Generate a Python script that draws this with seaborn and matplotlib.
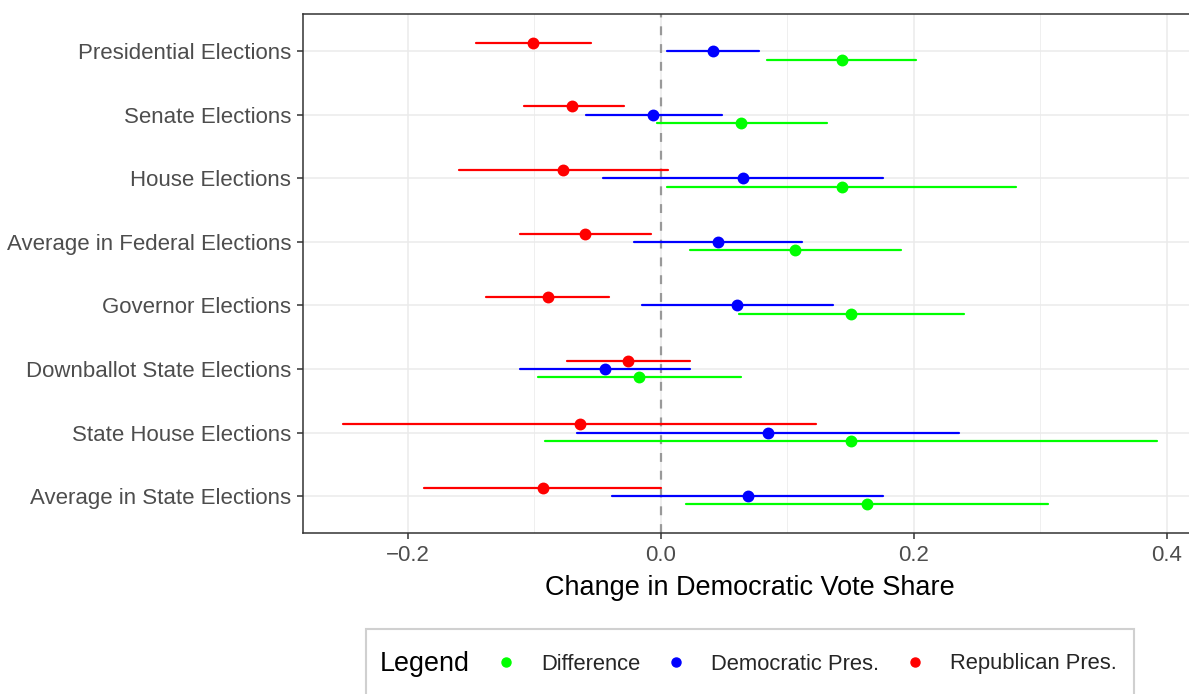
"""Dot-and-interval chart: change in Democratic vote share by election type."""

import matplotlib.pyplot as plt
import pandas as pd
import seaborn as sns
from matplotlib.lines import Line2D
from matplotlib.patches import Rectangle

categories = [
    "Presidential Elections",
    "Senate Elections",
    "House Elections",
    "Average in Federal Elections",
    "Governor Elections",
    "Downballot State Elections",
    "State House Elections",
    "Average in State Elections",
]

diff_est = [0.143, 0.063, 0.143, 0.106, 0.150, -0.017, 0.150, 0.163]
diff_lo = [0.084, -0.003, 0.005, 0.023, 0.062, -0.097, -0.092, 0.020]
diff_hi = [0.202, 0.131, 0.281, 0.190, 0.240, 0.063, 0.392, 0.306]

dem_est = [0.041, -0.006, 0.065, 0.045, 0.060, -0.044, 0.085, 0.069]
dem_lo = [0.005, -0.059, -0.046, -0.021, -0.015, -0.111, -0.066, -0.039]
dem_hi = [0.078, 0.048, 0.176, 0.112, 0.136, 0.023, 0.236, 0.176]

rep_est = [-0.101, -0.070, -0.077, -0.060, -0.089, -0.026, -0.064, -0.093]
rep_lo = [-0.146, -0.108, -0.160, -0.111, -0.138, -0.074, -0.251, -0.187]
rep_hi = [-0.055, -0.029, 0.006, -0.008, -0.041, 0.023, 0.123, 0.000]

series = ["Difference", "Democratic Pres.", "Republican Pres."]
colors = {"Difference": "#00FF00", "Democratic Pres.": "#0000FF", "Republican Pres.": "#FF0000"}

# long table: lower bound, estimate, upper bound per row -> median + 100% interval
rows = []
for name, est, lo, hi in [
    ("Difference", diff_est, diff_lo, diff_hi),
    ("Democratic Pres.", dem_est, dem_lo, dem_hi),
    ("Republican Pres.", rep_est, rep_lo, rep_hi),
]:
    for cat, e, l, h in zip(categories, est, lo, hi):
        for v in (l, e, h):
            rows.append({"election": cat, "series": name, "value": v})
df = pd.DataFrame(rows)

sns.set_theme(style="white")
plt.rcParams["font.family"] = ["Liberation Sans", "DejaVu Sans"]

fig = plt.figure(figsize=(11.89, 6.94), dpi=100)
ax = fig.add_axes([303 / 1189, 1 - 533.3 / 694, (1197 - 303) / 1189, (533.3 - 14) / 694])

sns.pointplot(
    data=df,
    x="value",
    y="election",
    hue="series",
    order=categories,
    hue_order=["Republican Pres.", "Democratic Pres.", "Difference"],
    palette=colors,
    estimator="median",
    errorbar=("pi", 100),
    dodge=0.262,
    linestyle="none",
    markers="o",
    markersize=6.5,
    err_kws={"linewidth": 1.6},
    legend=False,
    ax=ax,
)

ax.axvline(0, color="#999999", linestyle=(0, (4, 4)), linewidth=1.6, zorder=1)

ax.set_xlim(-0.283, 0.424)
ax.set_ylim(7.585, -0.585)
ax.set_xticks([-0.2, 0.0, 0.2, 0.4])
ax.set_xticklabels(["\u22120.2", "0.0", "0.2", "0.4"])
ax.set_xticks([-0.1, 0.1, 0.3], minor=True)
ax.grid(True, which="major", color="#EBEBEB", linewidth=1.1)
ax.grid(True, which="minor", axis="x", color="#EBEBEB", linewidth=0.55)
ax.set_axisbelow(True)
for spine in ax.spines.values():
    spine.set_visible(True)
    spine.set_color("#333333")
    spine.set_linewidth(1.1)

ax.tick_params(axis="both", which="major", length=4.3, width=1.1, color="#333333",
               labelsize=16, labelcolor="#4D4D4D", pad=4.3, left=True, bottom=True)
ax.tick_params(axis="x", which="minor", length=0)
ax.set_ylabel("")
ax.set_xlabel("Change in Democratic Vote Share", fontsize=19.5, color="black", labelpad=6)

# legend box at the bottom, title to the left of the keys
fig.patches.append(Rectangle((366 / 1189, -0.1), (1134 - 366) / 1189, 0.1 + 1 - 629 / 694,
                             transform=fig.transFigure, facecolor="white",
                             edgecolor="#D0D0D0", linewidth=1.5, zorder=0))
fig.text(380 / 1189, 1 - 664 / 694, "Legend", fontsize=19.4, va="center", ha="left", color="black")
handles = [Line2D([], [], marker="o", linestyle="none", color=colors[s], markersize=6.5) for s in series]
fig.legend(handles, series, ncol=3, frameon=False, loc="center left",
           bbox_to_anchor=(495 / 1189, 1 - 664 / 694), borderpad=0, borderaxespad=0,
           fontsize=15.8, handlelength=1.0, handletextpad=1.09, columnspacing=1.14)

fig.savefig("out.png", dpi=100)
